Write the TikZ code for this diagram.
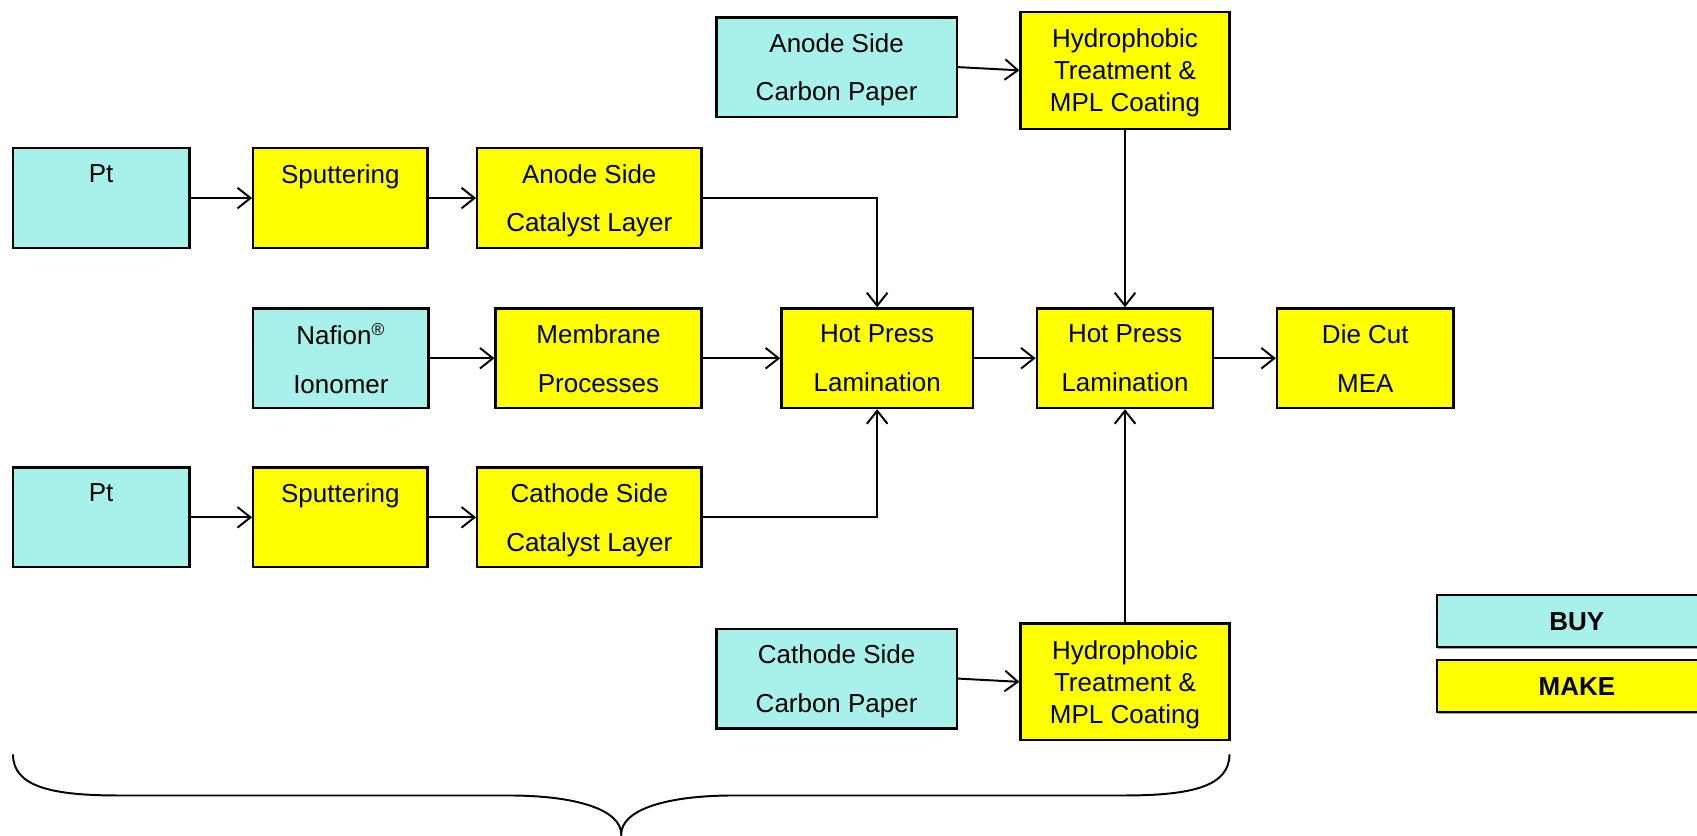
\documentclass[tikz,border=0pt]{standalone}
\usepackage{fontspec}
\setmainfont{Liberation Sans}
\usetikzlibrary{arrows.meta,shadows}
\definecolor{buycol}{RGB}{168,240,234}
\definecolor{makecol}{RGB}{255,255,0}
\tikzset{
  box/.style={draw, line width=1.1pt, inner sep=0pt, minimum height=46pt,
    align=center, text depth=0pt, font=\fontsize{12}{22.5}\selectfont},
  buy/.style={box, fill=buycol},
  make/.style={box, fill=makecol},
  tallbox/.style={make, minimum height=54pt, font=\fontsize{12}{14.75}\selectfont},
  flow/.style={line width=0.9pt, -{Straight Barb[length=6pt,width=9.5pt,line width=0.9pt]}},
  legendbox/.style={draw, line width=1.1pt, inner sep=0pt, minimum width=129pt,
    minimum height=24pt, font=\fontsize{12}{14}\selectfont\bfseries,
    drop shadow={shadow xshift=0.4pt, shadow yshift=-1pt, fill=black!35, opacity=1}},
  brace/.style={line width=0.9pt}
}
\begin{document}
\begin{tikzpicture}[x=0.5pt, y=-0.5pt]
\useasboundingbox (0,0) rectangle (1568,772);
\clip (0,0) rectangle (1568,772);

% upper branch: anode catalyst layer
\node[buy,  minimum width=81.5pt]  (pta)  at (93.5,183)  {Pt\\~};
\node[make, minimum width=80.5pt]  (spa)  at (314.5,183) {Sputtering\\~};
\node[make, minimum width=103.5pt] (acl)  at (544.5,183) {Anode Side\\Catalyst Layer};

% middle branch: membrane
\node[buy,  minimum width=81pt]    (naf)  at (315,331)   {Nafion\textsuperscript{®}\\Ionomer};
\node[make, minimum width=95pt]    (mem)  at (553,331)   {Membrane\\Processes};
\node[make, minimum width=88.5pt]  (hp1)  at (810.5,331) {Hot Press\\Lamination};
\node[make, minimum width=81.5pt]  (hp2)  at (1039.5,331){Hot Press\\Lamination};
\node[make, minimum width=81.5pt]  (die)  at (1261.5,331){Die Cut\\MEA};

% lower branch: cathode catalyst layer
\node[buy,  minimum width=81.5pt]  (ptc)  at (93.5,478)  {Pt\\~};
\node[make, minimum width=80.5pt]  (spc)  at (314.5,478) {Sputtering\\~};
\node[make, minimum width=103.5pt] (ccl)  at (544.5,478) {Cathode Side\\Catalyst Layer};

% gas diffusion layers
\node[buy,  minimum width=111pt]   (acp)  at (773,62)    {Anode Side\\Carbon Paper};
\node[tallbox, minimum width=96.5pt] (hya) at (1039.5,65) {Hydrophobic\\Treatment \&\\MPL Coating};
\node[buy,  minimum width=111pt]   (ccp)  at (773,627)   {Cathode Side\\Carbon Paper};
\node[tallbox, minimum width=96.5pt] (hyc) at (1039.5,630){Hydrophobic\\Treatment \&\\MPL Coating};

% legend
\node[legendbox, fill=buycol]  (lbuy)  at (1457,574) {BUY};
\node[legendbox, fill=makecol] (lmake) at (1457,634) {MAKE};

% connectors
\draw[flow] (pta) -- (spa);
\draw[flow] (spa) -- (acl);
\draw[flow] (ptc) -- (spc);
\draw[flow] (spc) -- (ccl);
\draw[flow] (naf) -- (mem);
\draw[flow] (mem) -- (hp1);
\draw[flow] (hp1) -- (hp2);
\draw[flow] (hp2) -- (die);
\draw[flow] (acl.east) -| (hp1.north);
\draw[flow] (ccl.east) -| (hp1.south);
\draw[flow] (acp.east) -- (hya.west);
\draw[flow] (ccp.east) -- (hyc.west);
\draw[flow] (hya) -- (hp2);
\draw[flow] (hyc) -- (hp2);

% brace under the component steps
\coordinate (bl) at (12,697);
\coordinate (bt) at (574,771);
\coordinate (br) at (1136,697);
\draw[brace] (bl) .. controls (12,727) and (48,735) .. (110,735)
  -- (470,735) .. controls (532,735) and (574,748) .. (bt)
  .. controls (574,748) and (616,735) .. (678,735)
  -- (1038,735) .. controls (1100,735) and (1136,727) .. (br);
\end{tikzpicture}
\end{document}
